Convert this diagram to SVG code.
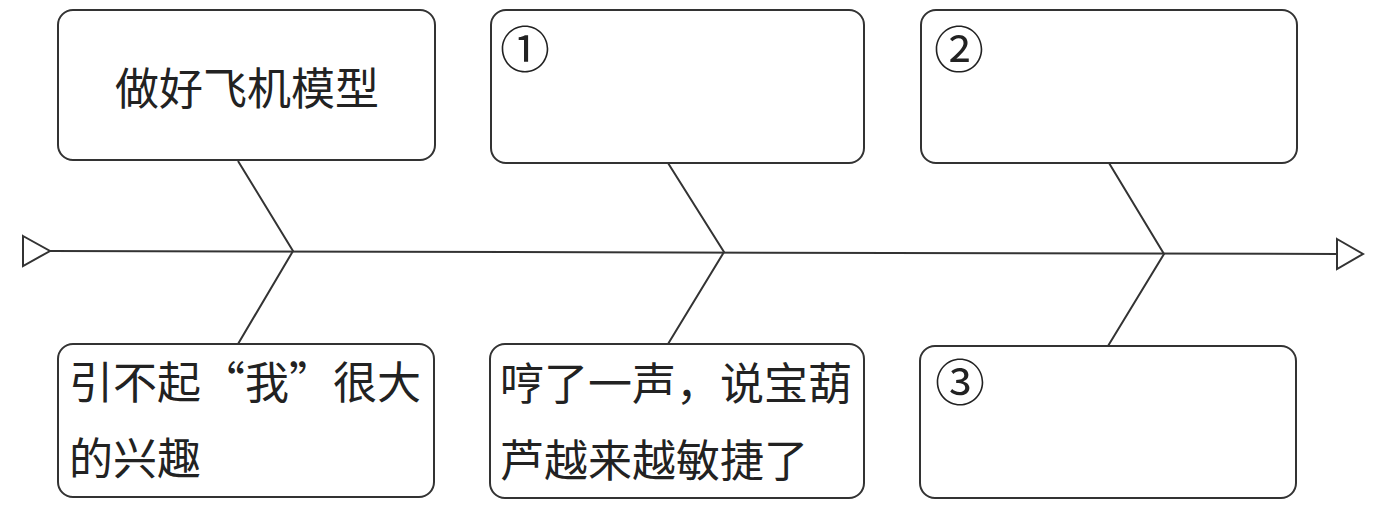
<svg xmlns="http://www.w3.org/2000/svg" width="1384" height="505" viewBox="0 0 1384 505">
<style>
.box{fill:#fff;stroke:#333;stroke-width:2}
.ln{fill:none;stroke:#333;stroke-width:2}
.tri{fill:#fff;stroke:#333;stroke-width:2;stroke-linejoin:miter}
.t{font-family:"Noto Sans CJK SC","Noto Sans CJK JP",sans-serif;font-size:44px;fill:#222}
.n{font-family:"Noto Sans CJK SC",sans-serif;font-size:50px;fill:#222}
</style>
<rect width="1384" height="505" fill="#fff"/>
<g id="connectors">
<line class="ln" x1="50" y1="251" x2="1337" y2="254"/>
<polygon class="tri" points="23,236 50,251 23,266"/>
<polygon class="tri" points="1337,239 1363,254 1337,269"/>
<polyline class="ln" points="238,161 293,251 238,344"/>
<polyline class="ln" points="668,163 724,252 668,344"/>
<polyline class="ln" points="1109,163 1164,254 1108,346"/>
</g>
<g id="node1">
<rect class="box" x="58" y="10" width="377" height="150" rx="15"/>
<text class="t" x="247" y="105" text-anchor="middle">做好飞机模型</text>
</g>
<g id="node2">
<rect class="box" x="491" y="10" width="373" height="153" rx="15"/>
<text class="n" x="525" y="68" text-anchor="middle">①</text>
</g>
<g id="node3">
<rect class="box" x="921" y="10" width="376" height="153" rx="15"/>
<text class="n" x="959" y="68" text-anchor="middle">②</text>
</g>
<g id="node4">
<rect class="box" x="58" y="344" width="376" height="153" rx="15"/>
<text class="t" x="69" y="399">引不起“我”很大</text>
<text class="t" x="69" y="475">的兴趣</text>
</g>
<g id="node5">
<rect class="box" x="490" y="344" width="374" height="154" rx="15"/>
<text class="t" x="500" y="400">哼了一声，说宝葫</text>
<text class="t" x="500" y="477">芦越来越敏捷了</text>
</g>
<g id="node6">
<rect class="box" x="920" y="346" width="376" height="152" rx="15"/>
<text class="n" x="960" y="401" text-anchor="middle">③</text>
</g>
</svg>
